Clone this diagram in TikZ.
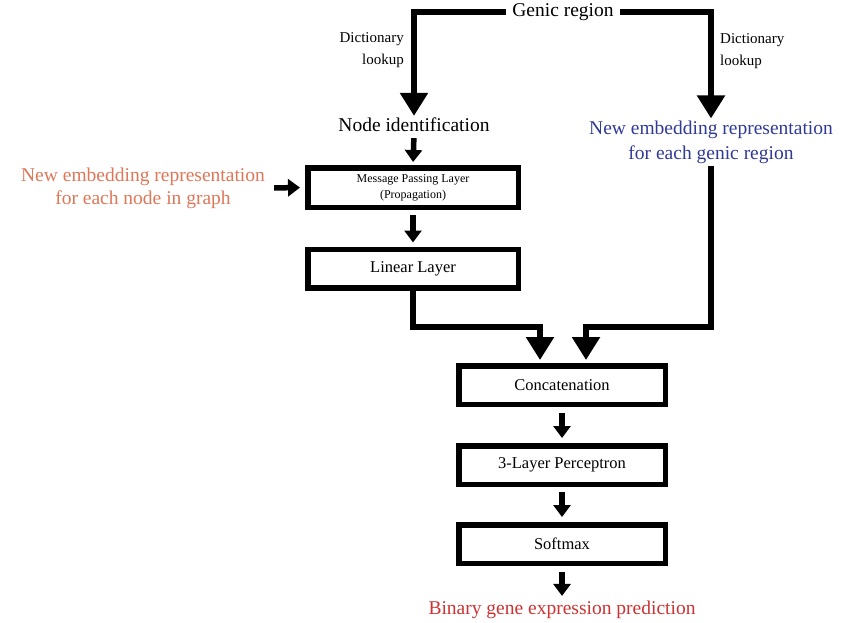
\documentclass[tikz,border=0pt]{standalone}
\usepackage{fontspec}
\setmainfont{Liberation Serif}
\usetikzlibrary{arrows.meta}
\definecolor{embedorange}{RGB}{222,118,88}
\definecolor{embedblue}{RGB}{48,58,150}
\definecolor{predred}{RGB}{205,50,50}
\begin{document}
\begin{tikzpicture}[x=1pt,y=-1pt,
layerbox/.style={draw, line width=5.5pt, minimum width=206.5pt, minimum height=38.5pt, inner sep=0pt, font=\fontsize{16.5}{18}\selectfont},
bigtext/.style={font=\fontsize{19.5}{25}\selectfont, align=center, inner sep=2pt},
smalltext/.style={font=\fontsize{15}{21.5}\selectfont, inner sep=1pt},
bigarrow/.style={line width=5.5pt, -{Triangle[width=27pt,length=23pt]}},
smallarrow/.style={line width=5.5pt, -{Triangle[width=17pt,length=12pt]}}]
\useasboundingbox (0,0) rectangle (856,623);
\node[bigtext, inner xsep=6pt] (genic) at (563,12){Genic region};
\node[smalltext, align=right, anchor=east] (dictL) at (405,50){Dictionary\\lookup};
\node[smalltext, align=left, anchor=west] (dictR) at (719,51){Dictionary\\lookup};
\node[bigtext] (nodeid) at (414,125){Node identification};
\node[bigtext, text=embedblue] (genemb) at (711,142){New embedding representation\\for each genic region};
\node[layerbox, minimum width=210.5pt, minimum height=39.5pt, font=\fontsize{12}{16}\selectfont, align=center] (mpl) at (413,187.5){Message Passing Layer\\(Propagation)};
\node[bigtext, text=embedorange, font=\fontsize{19.5}{23}\selectfont] (nodeemb) at (143,188){New embedding representation\\for each node in graph};
\node[layerbox, minimum width=210.5pt] (lin) at (413,268.5){Linear Layer};
\node[layerbox] (concat) at (562,385){Concatenation};
\node[layerbox] (mlp) at (562,465){3-Layer Perceptron};
\node[layerbox] (softmax) at (562,544){Softmax};
\node[bigtext, text=predred] (pred) at (562,610){Binary gene expression prediction};
\coordinate (joinL) at (413,327);
\coordinate (joinR) at (711,327);
\draw[bigarrow](genic.west) -| (nodeid.north);
\draw[bigarrow](genic.east) -| (genemb.north);
\draw[smallarrow, shorten <=4pt, shorten >=3pt](nodeid.south) -- (mpl.north);
\draw[smallarrow, shorten <=7pt, shorten >=5pt](nodeemb.east) -- (mpl.west);
\draw[smallarrow, shorten <=5pt, shorten >=4pt](mpl.south) -- (lin.north);
\draw[bigarrow, shorten >=3pt](lin.south) -- (joinL) -| ([xshift=-22pt]concat.north);
\draw[bigarrow, shorten >=3pt](genemb.south) -- (joinR) -| ([xshift=24pt]concat.north);
\draw[smallarrow, shorten <=6pt, shorten >=5pt](concat.south) -- (mlp.north);
\draw[smallarrow, shorten <=5pt, shorten >=5pt](mlp.south) -- (softmax.north);
\draw[smallarrow, shorten <=6pt, shorten >=3pt](softmax.south) -- (pred.north);
\end{tikzpicture}
\end{document}
